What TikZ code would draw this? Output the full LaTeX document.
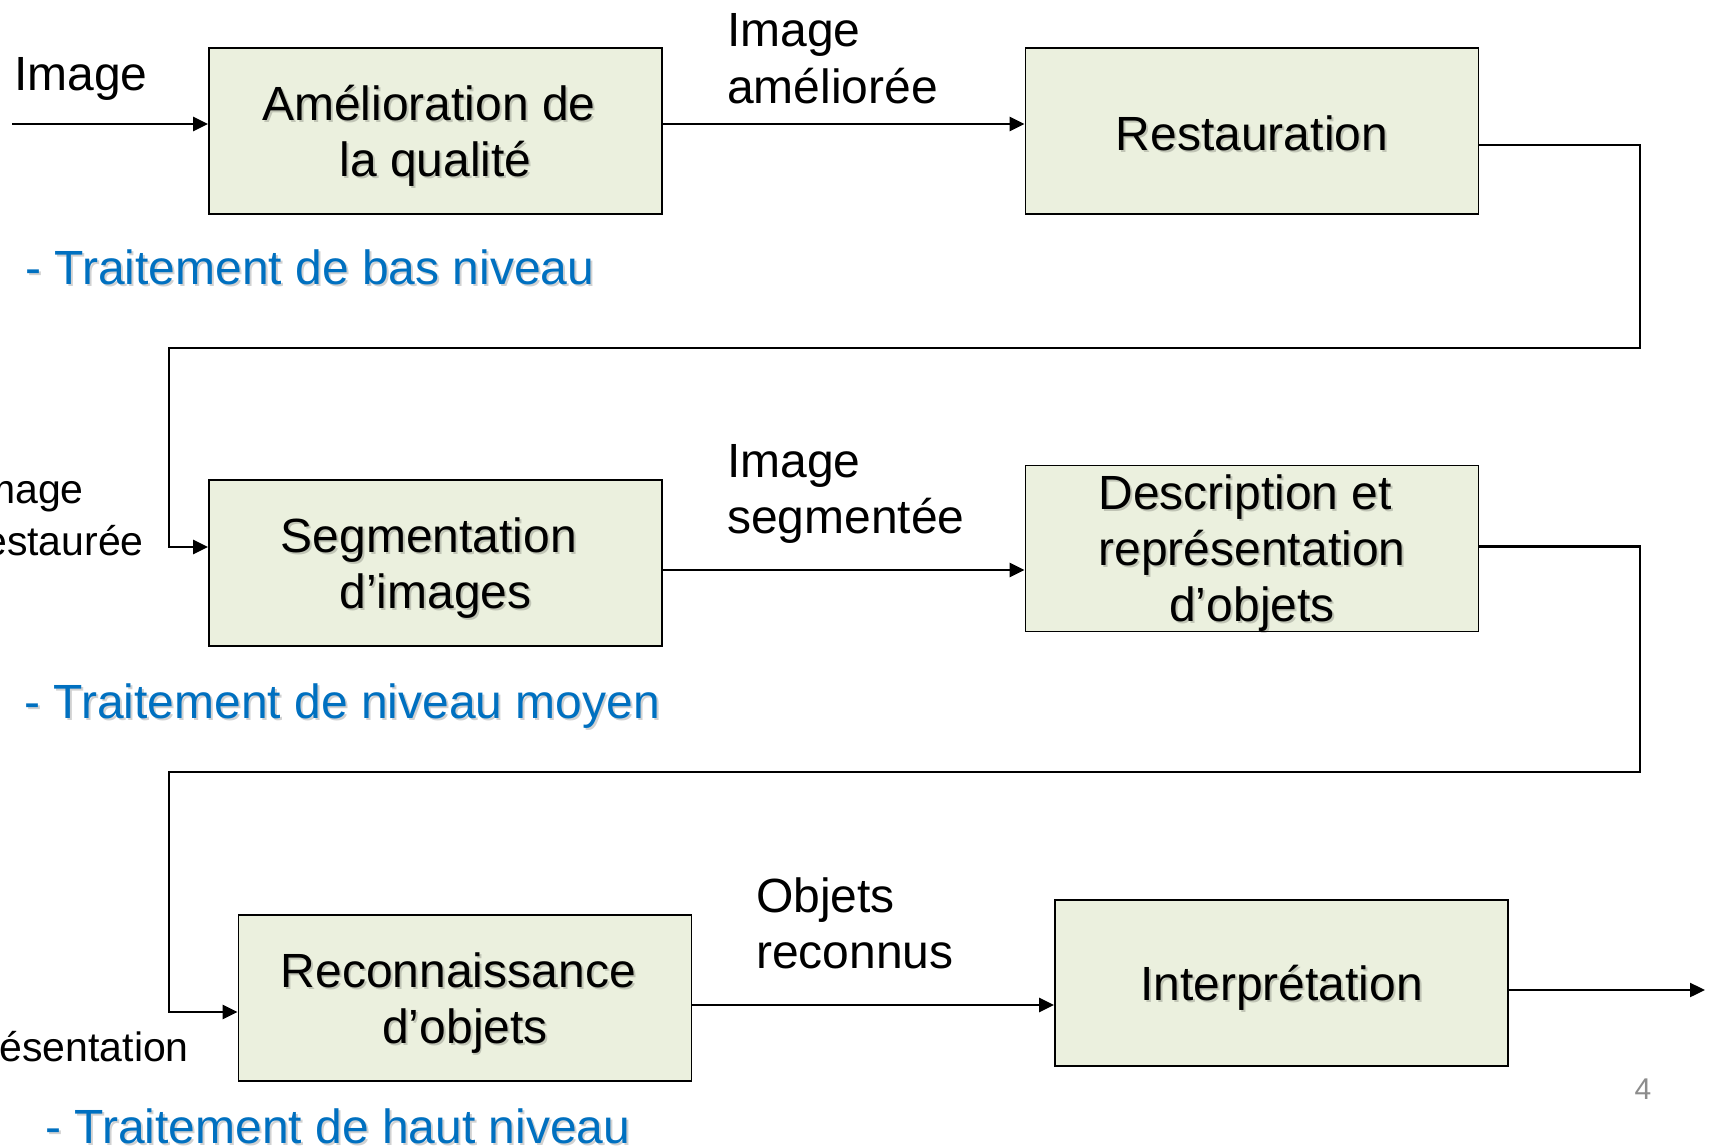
\documentclass[tikz,border=0pt]{standalone}
\usepackage{fontspec}
\setmainfont{Liberation Sans}
\usetikzlibrary{arrows.meta}
\definecolor{boxfill}{RGB}{235,240,222}
\definecolor{levelblue}{RGB}{0,112,192}
\definecolor{pagegray}{RGB}{140,140,140}
\newcommand\boxfont{\fontsize{48}{56}\selectfont}
\newcommand\sidefont{\fontsize{41}{52}\selectfont}
% trailing space kept at the end of a broken line
\newcommand\tsp{\hspace*{.278em}}

\begin{document}
\begin{tikzpicture}[x=1pt,y=-1pt,
  blk/.style={draw=black, line width=1.8pt, fill=boxfill, inner sep=0pt,
    minimum width=453pt, minimum height=166pt},
  boxtext/.style={inner sep=0pt, align=center, font=\boxfont, yshift=-5pt},
  % shifts add up: the shadow sits 2pt right of and 2pt below the text
  boxshadow/.style={boxtext, text=black, text opacity=0.18, xshift=2pt, yshift=-2pt},
  lbl/.style={inner sep=0pt, font=\boxfont, anchor=base west},
  side/.style={inner sep=0pt, font=\sidefont, anchor=base east},
  lvl/.style={inner sep=0pt, font=\boxfont, anchor=base west, text=levelblue},
  lvlshadow/.style={lvl, text=black, text opacity=0.18},
  arr/.style={line width=2.4pt, -{Triangle[length=15pt,width=14pt]}},
  pagenum/.style={inner sep=0pt, font=\fontsize{30}{30}\selectfont, text=pagegray}]

\useasboundingbox (0,0) rectangle (1714,1148);
\clip (0,0) rectangle (1714,1148);

% processing blocks
\node[blk] (amel)   at (435.5,131)  {};
\node[blk] (rest)   at (1252,131)   {};
\node[blk] (seg)    at (435.5,563)  {};
\node[blk] (desc)   at (1252,548.5) {};
\node[blk] (rec)    at (465,998)    {};
\node[blk] (interp) at (1281.5,983) {};

% block texts with their soft shadows
\node[boxshadow] at (amel.center)   {Amélioration de\tsp\\la qualité};
\node[boxtext] (tamel) at (amel.center) {Amélioration de\tsp\\la qualité};
\node[boxshadow] at ([yshift=3pt]rest.center) {Restauration};
\node[boxtext] (trest) at ([yshift=3pt]rest.center) {Restauration};
\node[boxshadow] at (seg.center)    {Segmentation\tsp\\d’images};
\node[boxtext] (tseg) at (seg.center) {Segmentation\tsp\\d’images};
\node[boxshadow] at (desc.center)   {Description et\tsp\\représentation\tsp\\d’objets};
\node[boxtext] (tdesc) at (desc.center) {Description et\tsp\\représentation\tsp\\d’objets};
\node[boxshadow] at (rec.center)    {Reconnaissance\tsp\\d’objets};
\node[boxtext] (trec) at (rec.center) {Reconnaissance\tsp\\d’objets};
\node[boxshadow] at (interp.center) {Interprétation};
\node[boxtext] (tinterp) at (interp.center) {Interprétation};

% connectors
\coordinate (inA) at (12,124);
\draw[arr] (inA) -- (inA -| amel.west);
\draw[arr] (amel.east |- inA) -- (rest.west |- inA);

\coordinate (r1) at (1640,348);
\coordinate (l1) at (169,348);
\draw[arr] ([yshift=-14pt]rest.east) -| (r1) -- (l1) |- ([yshift=16pt]seg.west);

\coordinate (mA) at (0,570);
\draw[arr] (seg.east |- mA) -- (desc.west |- mA);

\coordinate (r2) at (1640,772);
\coordinate (l2) at (169,772);
\draw[arr] ([yshift=2pt]desc.east) -| (r2) -- (l2) |- ([yshift=-14pt]rec.west);

\coordinate (bA) at (0,1005);
\draw[arr] (rec.east |- bA) -- (interp.west |- bA);

\coordinate (outA) at (1705,990);
\draw[arr] ([yshift=-7pt]interp.east) -- (outA);

% connector labels
\node[lbl] (lin) at (14,91) {Image};
\node[lbl] (la1) at (727,47)  {Image};
\node[lbl] (la2) at (727,103) {améliorée};
\node[lbl] (lb1) at (727,477) {Image};
\node[lbl] (lb2) at (727,533) {segmentée};
\node[lbl] (lc1) at (756,912) {Objets};
\node[lbl] (lc2) at (756,968) {reconnus};
\node[side] (ld1) at (84,503)  {Image};
\node[side] (ld2) at (144,555) {restaurée};
\node[side] (le1) at (189,1061) {représentation};

% processing levels
\node[lvlshadow] at (27,286)  {- Traitement de bas niveau};
\node[lvl] (lvA) at (25,284)  {- Traitement de bas niveau};
\node[lvlshadow] at (26,720)  {- Traitement de niveau moyen};
\node[lvl] (lvB) at (24,718)  {- Traitement de niveau moyen};
\node[lvlshadow] at (47,1145) {- Traitement de haut niveau};
\node[lvl] (lvC) at (45,1143) {- Traitement de haut niveau};

% page number
\node[pagenum] (pg) at (1643,1089) {4};
\end{tikzpicture}
\end{document}
